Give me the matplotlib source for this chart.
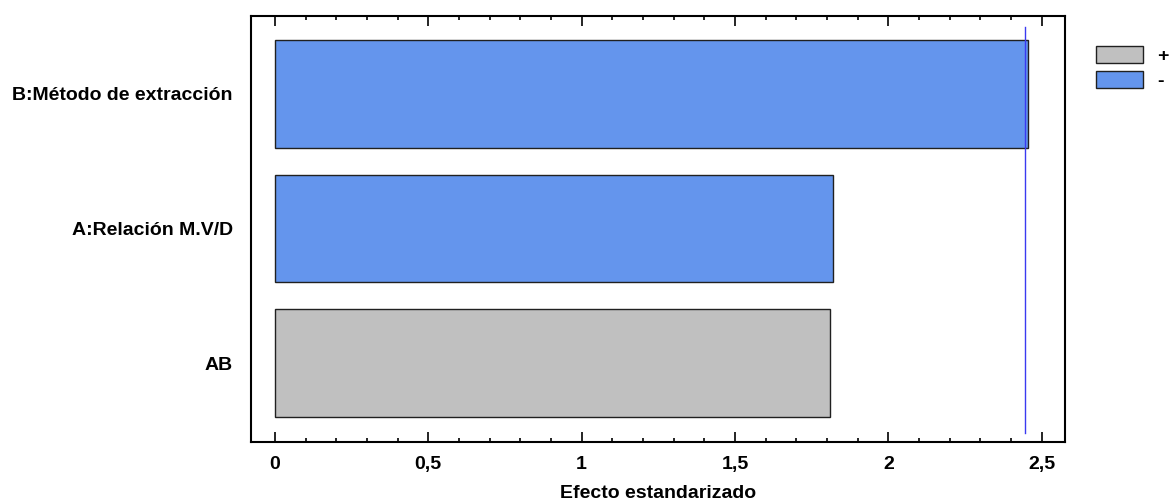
import matplotlib
matplotlib.use("Agg")
import matplotlib.pyplot as plt
from matplotlib.patches import Patch
from matplotlib.ticker import MultipleLocator, FuncFormatter

plt.rcParams['font.family'] = ['Liberation Sans Narrow', 'Liberation Sans', 'DejaVu Sans']
plt.rcParams['font.weight'] = 'bold'

# data (bottom to top)
factors = ["AB", "A:Relación M.V/D", "B:Método de extracción"]
effects = [1.81, 1.82, 2.457]
signs = ["+", "-", "-"]
critical = 2.445

colors = {"+": "#C0C0C0", "-": "#6495ED"}

fig = plt.figure(figsize=(11.69, 5.04), dpi=100)
ax = fig.add_axes([0.2145, 0.123, 0.6965, 0.846])

ypos = range(len(factors))
ax.barh(ypos, effects, height=0.8, color=[colors[s] for s in signs],
        edgecolor="#202020", linewidth=1.0)
ax.plot([critical, critical], [-0.52, 2.5], color="#3A3AF0", linewidth=1.0)

ax.set_xlim(-0.079, 2.576)
ax.set_ylim(-0.587, 2.582)
ax.set_yticks(list(ypos))
ax.set_yticklabels(factors, fontsize=14, fontweight='bold')
ax.tick_params(axis='y', length=0, pad=13)

ax.xaxis.set_major_locator(MultipleLocator(0.5))
ax.xaxis.set_minor_locator(MultipleLocator(0.1))
ax.xaxis.set_major_formatter(FuncFormatter(lambda v, p: f"{v:g}".replace(".", ",")))
ax.tick_params(axis='x', which='both', direction='in', top=True, labelsize=14, pad=10)
ax.tick_params(axis='x', which='major', length=7, width=1.2)
ax.tick_params(axis='x', which='minor', length=3, width=1.2)
for lab in ax.get_xticklabels():
    lab.set_fontweight('bold')
for sp in ax.spines.values():
    sp.set_linewidth(1.5)

ax.set_xlabel("Efecto estandarizado", fontsize=14, fontweight='bold', labelpad=9)

handles = [Patch(facecolor=colors["+"], edgecolor="#202020", label="+"),
           Patch(facecolor=colors["-"], edgecolor="#202020", label="-")]
fig.legend(handles=handles, loc="upper left", bbox_to_anchor=(0.9375, 0.909),
           frameon=False, fontsize=14, handlelength=2.4, handleheight=0.95,
           labelspacing=0.3, handletextpad=0.75, borderaxespad=0, borderpad=0)

fig.savefig("out.png", dpi=100)
